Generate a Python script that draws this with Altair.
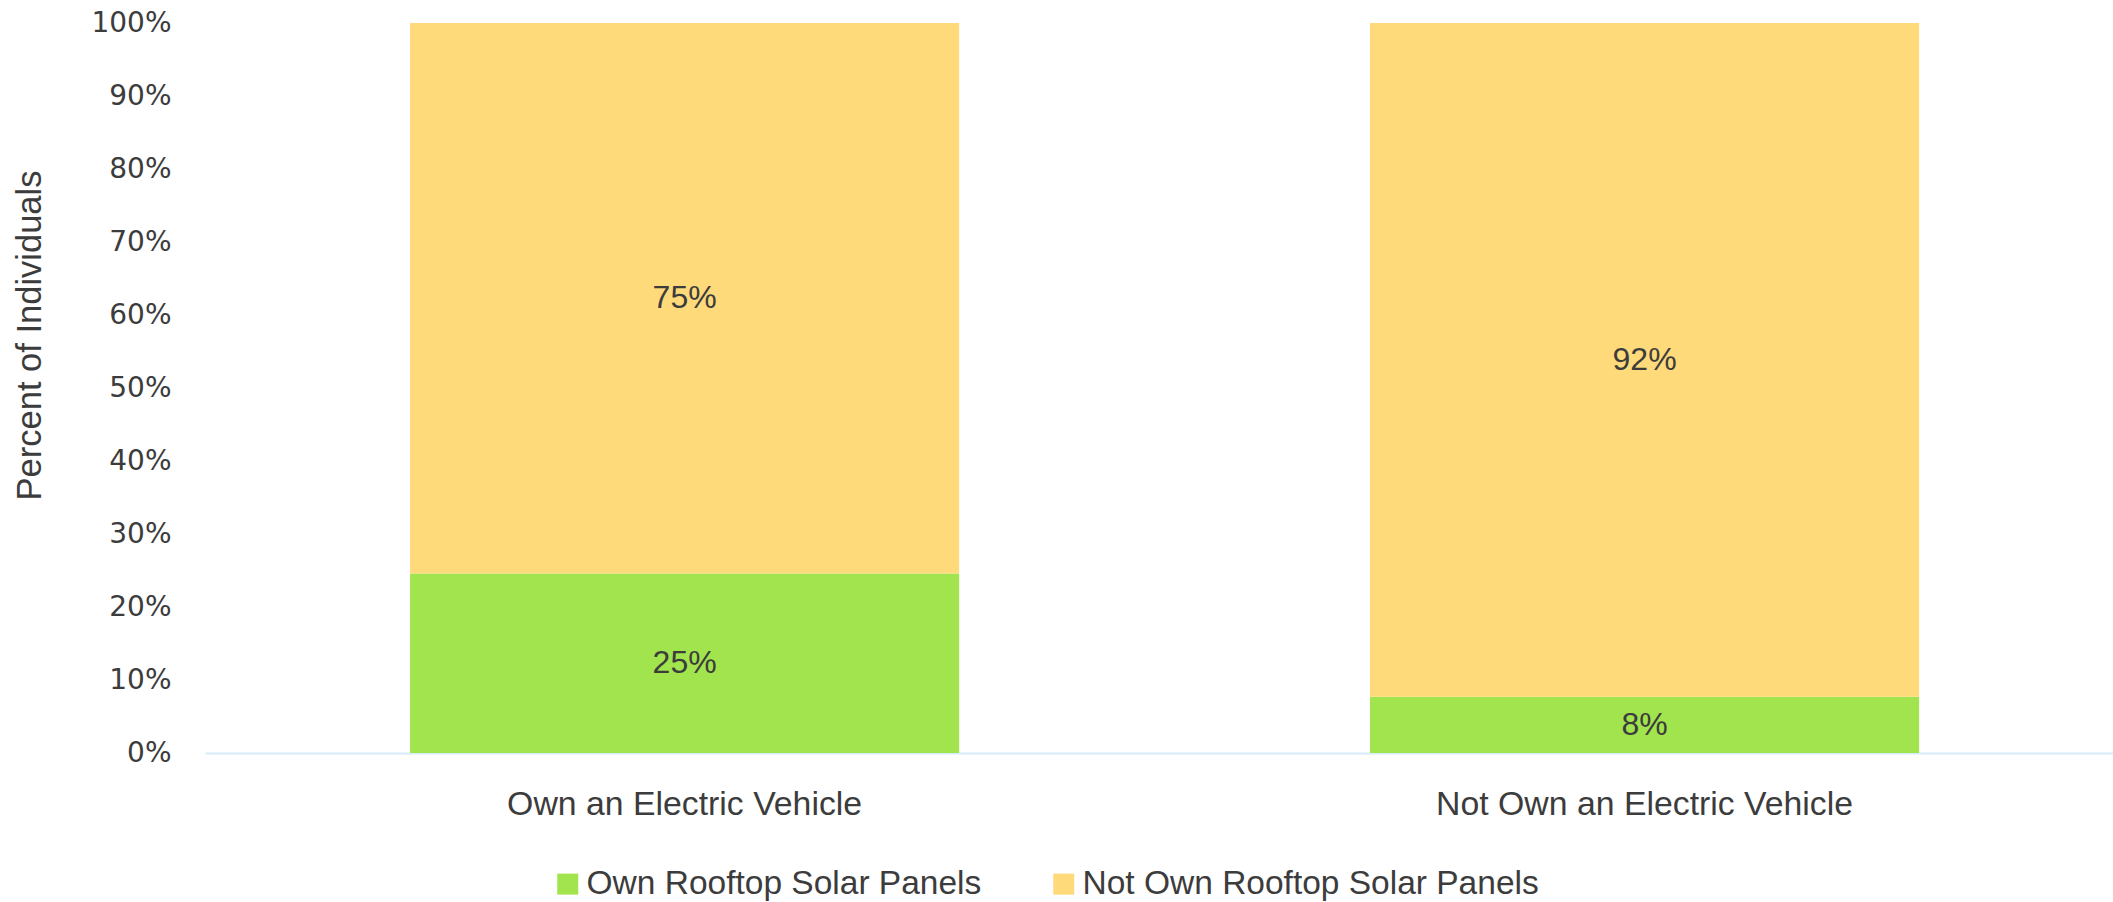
import altair as alt
import pandas as pd

categories = ["Own an Electric Vehicle", "Not Own an Electric Vehicle"]
series = ["Own Rooftop Solar Panels", "Not Own Rooftop Solar Panels"]
own_solar = [24.6, 7.7]
not_own_solar = [75.4, 92.3]
y_ticks = [0, 10, 20, 30, 40, 50, 60, 70, 80, 90, 100]
colors = ["#A1E44D", "#FFDA7A"]

rows = []
for i, c in enumerate(categories):
    rows.append({"cat": c, "series": series[0], "value": own_solar[i], "ord": 0})
    rows.append({"cat": c, "series": series[1], "value": not_own_solar[i], "ord": 1})
df = pd.DataFrame(rows)

TXT = "#3C3C3C"
FONT = "Liberation Sans"

base = alt.Chart(df).transform_stack(
    stack="value", as_=["y0", "y1"], groupby=["cat"], sort=[alt.SortField("ord")]
).transform_calculate(
    mid="(datum.y0 + datum.y1) / 2",
    lab="format(datum.value, '.0f') + '%'",
)

x_enc = alt.X(
    "cat:N",
    sort=categories,
    title=None,
    scale=alt.Scale(paddingInner=0.428, paddingOuter=0.2078, align=0.514),
    axis=alt.Axis(
        labelAngle=0, ticks=False, domainColor="#D6ECFA", domainWidth=2,
        labelFont=FONT, labelFontSize=33.8, labelColor=TXT, labelPadding=34,
        grid=False, labelLimit=1000,
    ),
)

bars = base.mark_bar().encode(
    x=x_enc,
    y=alt.Y(
        "y0:Q",
        scale=alt.Scale(domain=[0, 100], nice=False),
        axis=alt.Axis(
            values=y_ticks, labelExpr="datum.value + '%'", domain=False, ticks=False,
            grid=False, labelFont="DejaVu Sans", labelFontSize=28, labelColor=TXT,
            labelPadding=34, title="Percent of Individuals", titleFont=FONT,
            titleFontSize=34.5, titleFontWeight="normal", titleColor=TXT,
            titleX=-175, titleY=312, titleBaseline="middle", titleAngle=270,
        ),
    ),
    y2="y1:Q",
    color=alt.Color(
        "series:N",
        scale=alt.Scale(domain=series, range=colors),
        legend=alt.Legend(
            title=None, orient="none", direction="horizontal", legendX=346, legendY=844,
            symbolType="square", symbolSize=441, symbolStrokeWidth=0,
            labelFont=FONT, labelFontSize=33.5, labelColor=TXT, labelOffset=2,
            columnPadding=65, labelLimit=1000,
        ),
    ),
    order=alt.Order("ord:Q"),
)

labels = base.mark_text(font=FONT, fontSize=32, color=TXT, baseline="middle").encode(
    x=alt.X("cat:N", sort=categories),
    y=alt.Y("mid:Q"),
    text="lab:N",
)

chart = alt.layer(bars, labels).properties(
    width=1908, height=730,
    autosize=alt.AutoSizeParams(type="none"),
    padding={"left": 205, "top": 23, "right": 0, "bottom": 149},
).configure(
    background="white",
    view=alt.ViewConfig(stroke="transparent"),
)

chart.save("out.html", embed_options={"renderer": "svg", "actions": False})
